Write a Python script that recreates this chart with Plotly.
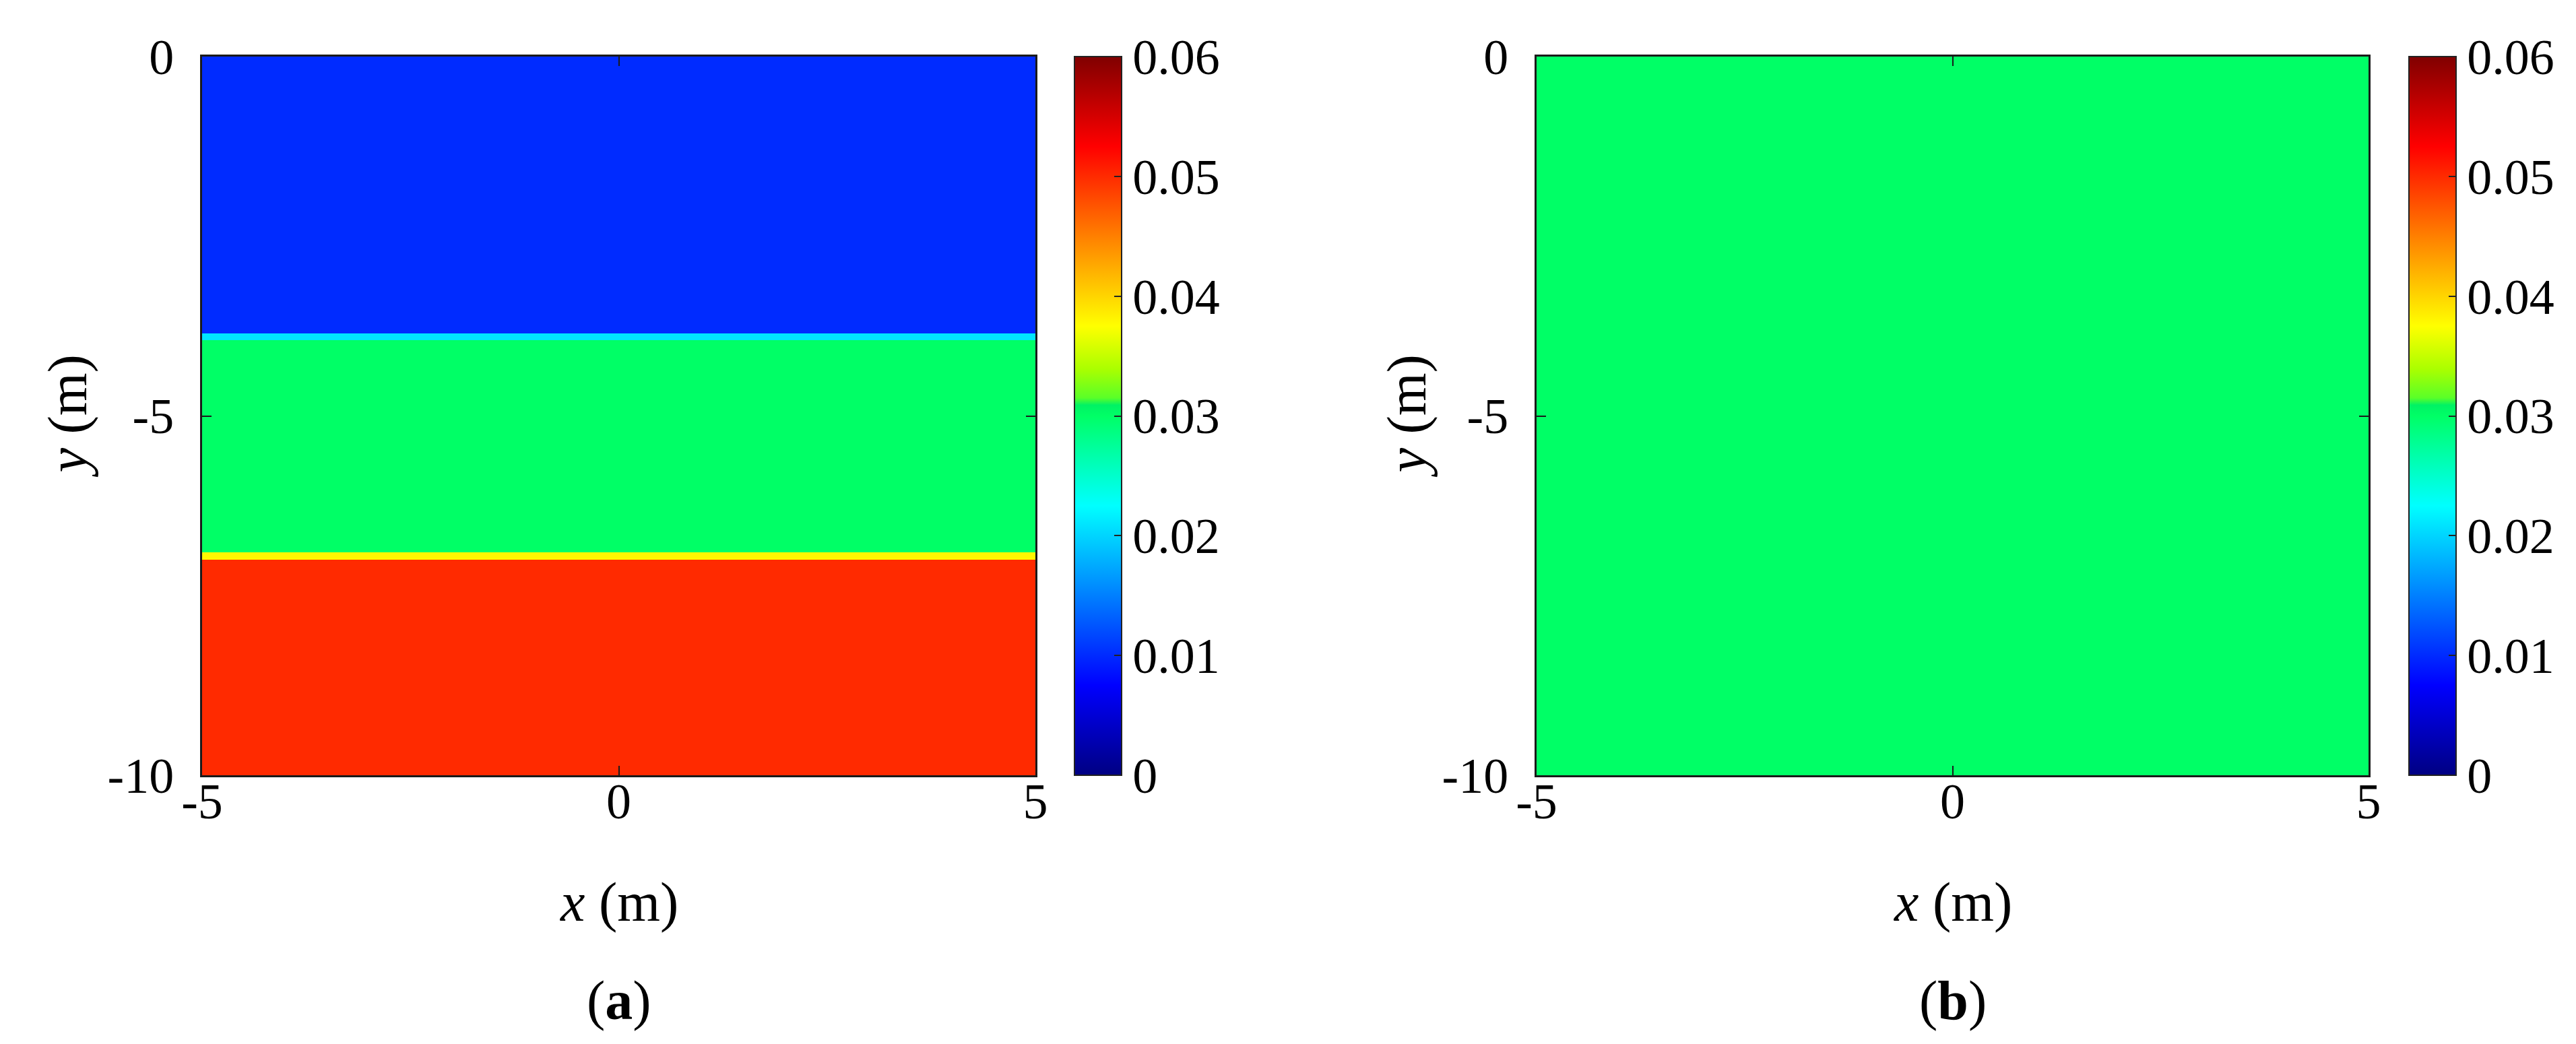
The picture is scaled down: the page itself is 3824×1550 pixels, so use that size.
import plotly.graph_objects as go

# ---------------- data ----------------
x_edges = [-5.0, 5.0]                      # m, horizontal extent
y_top, y_bottom, dy = 0.0, -10.0, 0.05     # m, vertical extent and cell size

# panel (a): three layers
layer_tops_a = [0.0, -3.9, -6.95]          # top of each layer (m)
layer_values_a = [0.01, 0.03, 0.05]
interface_depths_a = [-3.9, -6.95]
interface_values_a = [0.021, 0.038]
interface_halfwidth = 0.06

# panel (b): homogeneous
value_b = 0.03

cbar_ticks = [0, 0.01, 0.02, 0.03, 0.04, 0.05, 0.06]
cbar_labels = ["0", "0.01", "0.02", "0.03", "0.04", "0.05", "0.06"]
x_ticks = [-5, 0, 5]
x_labels = ["-5", "0", "5"]
y_ticks = [-10, -5, 0]
y_labels = ["-10", "-5", "0"]

# ---------------- grid ----------------
n_rows = int(round((y_top - y_bottom) / dy))
y_edges = [y_top - i * dy for i in range(n_rows + 1)]
y_centers = [(y_edges[i] + y_edges[i + 1]) / 2 for i in range(n_rows)]


def value_a(yc):
    for d, v in zip(interface_depths_a, interface_values_a):
        if abs(yc - d) <= interface_halfwidth:
            return v
    val = layer_values_a[0]
    for top, v in zip(layer_tops_a, layer_values_a):
        if yc <= top:
            val = v
    return val


z_a = [[value_a(yc)] for yc in y_centers]
z_b = [[value_b] for _ in y_centers]

colorscale = [
    [0.0, "rgb(0,0,130)"],
    [0.125, "rgb(0,0,255)"],
    [0.375, "rgb(0,255,255)"],
    [0.5, "rgb(0,255,102)"],
    [0.515, "rgb(0,242,100)"],
    [0.525, "rgb(90,255,40)"],
    [0.565, "rgb(170,255,0)"],
    [0.625, "rgb(255,255,0)"],
    [0.875, "rgb(255,0,0)"],
    [1.0, "rgb(128,0,0)"],
]

W, H = 3824, 1550
FONT = "Liberation Serif"
TICK_SIZE = 74
TITLE_SIZE = 82

# pixel layout
ax_a = (292, 1529)
ax_b = (2273, 3508)
ax_top, ax_bot = 76, 1143
cb_a_left, cb_b_left, cb_thick = 1587, 3568, 70


def px(x):
    return x / W


def py(y):
    return 1 - y / H


ydom = [py(ax_bot), py(ax_top)]
cb_len = (ax_bot - ax_top) / H
cb_y = (ydom[0] + ydom[1]) / 2


def cbar(left):
    return dict(
        x=px(left), xanchor="left", y=cb_y, yanchor="middle",
        len=cb_len, lenmode="fraction", thickness=cb_thick, thicknessmode="pixels",
        outlinewidth=2, outlinecolor="#222",
        tickvals=cbar_ticks, ticktext=cbar_labels,
        ticks="inside", ticklen=12, tickwidth=2, tickcolor="#222",
        tickfont=dict(family=FONT, size=TICK_SIZE, color="black"),
        xpad=0, ypad=0,
    )


fig = go.Figure()
fig.add_trace(go.Heatmap(
    x=x_edges, y=y_edges, z=z_a, colorscale=colorscale, zmin=0, zmax=0.06,
    zsmooth=False, colorbar=cbar(cb_a_left), xaxis="x", yaxis="y",
))
fig.add_trace(go.Heatmap(
    x=x_edges, y=y_edges, z=z_b, colorscale=colorscale, zmin=0, zmax=0.06,
    zsmooth=False, colorbar=cbar(cb_b_left), xaxis="x2", yaxis="y2",
))

axis_common = dict(
    showgrid=False, zeroline=False, showline=True, linewidth=3, linecolor="#1a1a1a",
    mirror="ticks", ticks="inside", ticklen=14, tickwidth=2, tickcolor="#1a1a1a",
    tickfont=dict(family=FONT, size=TICK_SIZE, color="black"), automargin=False,
)

fig.update_layout(
    width=W, height=H,
    margin=dict(l=0, r=0, t=0, b=0, autoexpand=False),
    paper_bgcolor="white", plot_bgcolor="white",
    showlegend=False,
    xaxis=dict(domain=[px(ax_a[0]), px(ax_a[1])], range=[-5, 5], tickvals=x_ticks,
               ticktext=x_labels, anchor="y", ticklabelstandoff=-28, **axis_common),
    yaxis=dict(domain=ydom, range=[-10, 0], tickvals=y_ticks, ticktext=y_labels,
               anchor="x", ticklabelstandoff=24, **axis_common),
    xaxis2=dict(domain=[px(ax_b[0]), px(ax_b[1])], range=[-5, 5], tickvals=x_ticks,
                ticktext=x_labels, anchor="y2", ticklabelstandoff=-28, **axis_common),
    yaxis2=dict(domain=ydom, range=[-10, 0], tickvals=y_ticks, ticktext=y_labels,
                anchor="x2", ticklabelstandoff=24, **axis_common),
)

title_font = dict(family=FONT, size=TITLE_SIZE, color="black")
for (l, r), tag, ytx in [(ax_a, "a", 92), (ax_b, "b", 2080)]:
    cx = (l + r) / 2
    fig.add_annotation(text="<i>x</i> (m)", x=px(cx), y=py(1331), xref="paper", yref="paper",
                       showarrow=False, font=title_font, xanchor="center", yanchor="middle")
    fig.add_annotation(text=f"(<b>{tag}</b>)", x=px(cx), y=py(1477), xref="paper", yref="paper",
                       showarrow=False, font=title_font, xanchor="center", yanchor="middle")
    fig.add_annotation(text="<i>y</i> (m)", x=px(ytx), y=py((ax_top + ax_bot) / 2),
                       xref="paper", yref="paper", showarrow=False, font=title_font,
                       textangle=-90, xanchor="center", yanchor="middle")

fig.write_html("out.html")
